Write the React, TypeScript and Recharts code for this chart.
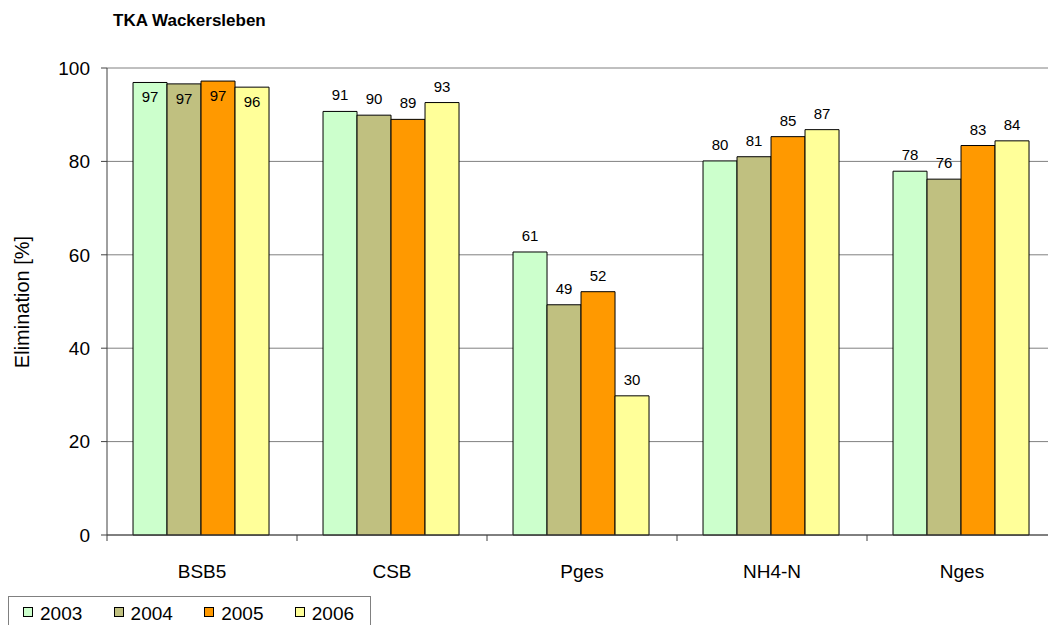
import React from 'react';
import { BarChart, Bar, XAxis, YAxis, CartesianGrid, Legend, LabelList } from 'recharts';

const categories = ['BSB5', 'CSB', 'Pges', 'NH4-N', 'Nges'];
const years = ['2003', '2004', '2005', '2006'];
const elim2003 = [96.9, 90.7, 60.6, 80.1, 77.9];
const elim2004 = [96.6, 89.9, 49.3, 81.0, 76.2];
const elim2005 = [97.2, 89.0, 52.1, 85.3, 83.4];
const elim2006 = [95.9, 92.6, 29.8, 86.8, 84.4];
const yTicks = [0, 20, 40, 60, 80, 100];
const colors = ['#CCFFCC', '#C0C080', '#FF9900', '#FFFF99'];

const series = [elim2003, elim2004, elim2005, elim2006];
const data = categories.map((name, i) => {
  const row: Record<string, string | number> = { name };
  years.forEach((y, s) => {
    row[y] = series[s][i];
  });
  return row;
});

const FONT = '"Liberation Sans", Arial, sans-serif';
const W = 1060;
const H = 625;
const margin = { top: 68, right: 3, left: 47, bottom: 60 };
const Y_AXIS_W = 60;
const plotW = W - margin.left - Y_AXIS_W - margin.right;
const halfBand = plotW / categories.length / 2;
const AXIS = '#404040';

const XTick = (props: any) => {
  const { x, y, payload, index } = props;
  return (
    <g>
      <line x1={x - halfBand} x2={x - halfBand} y1={y} y2={y + 6} stroke={AXIS} />
      {index === categories.length - 1 && (
        <line x1={x + halfBand} x2={x + halfBand} y1={y} y2={y + 6} stroke={AXIS} />
      )}
      <text x={x} y={y + 43} textAnchor="middle" fontSize={19} fontFamily={FONT} fill="#000">
        {payload.value}
      </text>
    </g>
  );
};

const BarValue = (props: any) => {
  const { x, y, width, value } = props;
  const inside = value >= 95;
  return (
    <text
      x={x + width / 2}
      y={inside ? y + 20 : y - 11}
      textAnchor="middle"
      fontSize={15}
      fontFamily={FONT}
      fill="#000"
    >
      {Math.round(value)}
    </text>
  );
};

const YLabel = () => (
  <text
    x={29}
    y={302}
    transform="rotate(-90, 29, 302)"
    textAnchor="middle"
    fontSize={20}
    fontFamily={FONT}
    fill="#000"
  >
    Elimination [%]
  </text>
);

const LegendBox = (props: any) => {
  const { payload } = props;
  return (
    <div
      style={{
        border: '1px solid #808080',
        borderBottom: 'none',
        width: 363,
        height: 29,
        boxSizing: 'border-box',
        display: 'flex',
        paddingLeft: 14,
        paddingTop: 8.5,
        fontFamily: FONT,
        fontSize: 19,
        lineHeight: '16px',
        color: '#000',
        overflow: 'visible',
      }}
    >
      {(payload || []).map((p: any) => (
        <div
          key={p.value}
          style={{ width: 90.6, flexShrink: 0, display: 'flex', alignItems: 'flex-start' }}
        >
          <span
            style={{
              width: 10,
              height: 10,
              marginTop: 1.5,
              marginRight: 7,
              background: p.color,
              border: '1px solid #000',
              boxSizing: 'border-box',
              display: 'inline-block',
              flexShrink: 0,
            }}
          />
          <span>{p.value}</span>
        </div>
      ))}
    </div>
  );
};

export default function App() {
  return (
    <div
      style={{
        position: 'absolute',
        left: 0,
        top: 0,
        width: 1048,
        height: 625,
        overflow: 'hidden',
        background: '#fff',
      }}
    >
      <div
        style={{
          position: 'absolute',
          left: 113,
          top: 12,
          fontFamily: FONT,
          fontWeight: 'bold',
          fontSize: 17,
          lineHeight: '17px',
          color: '#000',
          whiteSpace: 'nowrap',
        }}
      >
        TKA Wackersleben
      </div>
      <BarChart
        width={W}
        height={H}
        data={data}
        margin={margin}
        barCategoryGap="13.7%"
        barGap={0}
      >
        <CartesianGrid vertical={false} stroke="#808080" />
        <XAxis
          dataKey="name"
          height={30}
          stroke={AXIS}
          tickLine={false}
          tickSize={0}
          tickMargin={0}
          tick={<XTick />}
          interval={0}
        />
        <YAxis
          width={Y_AXIS_W}
          domain={[0, 100]}
          ticks={yTicks}
          stroke={AXIS}
          tickSize={6}
          tickMargin={11}
          tick={{ fontSize: 19, fill: '#000', fontFamily: FONT }}
          label={YLabel}
        />
        <Legend
          layout="horizontal"
          verticalAlign="middle"
          align="center"
          content={<LegendBox />}
          wrapperStyle={{ left: 8, top: 596, width: 363 }}
        />
        {years.map((y, i) => (
          <Bar key={y} dataKey={y} fill={colors[i]} stroke="#000" strokeWidth={1} isAnimationActive={false}>
            <LabelList dataKey={y} content={<BarValue />} />
          </Bar>
        ))}
      </BarChart>
    </div>
  );
}
